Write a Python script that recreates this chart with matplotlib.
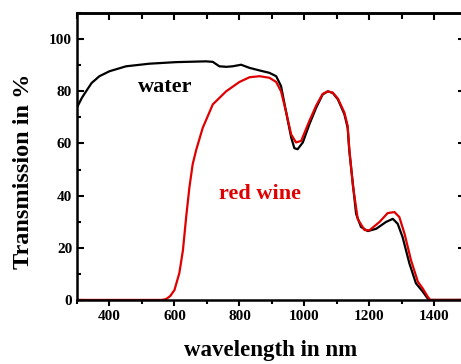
import numpy as np
import matplotlib
matplotlib.use("Agg")
from matplotlib import pyplot as plt
from matplotlib.ticker import MultipleLocator

# water (black)
water_nm = [302, 315, 328, 345, 369, 400, 451, 523, 605, 697, 718, 738, 760, 779,
            805, 831, 862, 892, 913, 928, 943, 959, 969, 979, 995, 1015, 1036,
            1056, 1072, 1087, 1103, 1123, 1133, 1138, 1149, 1159, 1174, 1195,
            1221, 1251, 1272, 1287, 1302, 1323, 1343, 1364, 1379, 1385, 1400, 1494]
water_T = [74.3, 77.5, 80.0, 83.2, 85.8, 87.7, 89.6, 90.6, 91.2, 91.5, 91.3, 89.6,
           89.4, 89.6, 90.2, 89.0, 88.0, 87.1, 85.8, 82.0, 72.4, 62.4, 58.2, 57.8,
           60.4, 67.3, 73.7, 78.8, 80.0, 79.4, 76.9, 71.2, 66.0, 57.2, 44.5, 33.0,
           28.0, 26.4, 27.3, 29.9, 31.1, 29.2, 24.1, 14.0, 6.4, 3.2, 0.6, 0.0,
           0.0, 0.0]

# red wine (red)
wine_nm = [302, 560, 574, 587, 600, 615, 626, 636, 646, 656, 667, 687, 718, 759,
           800, 831, 862, 892, 913, 928, 943, 959, 974, 990, 1015, 1036, 1056,
           1072, 1087, 1103, 1123, 1133, 1138, 1149, 1164, 1185, 1200, 1231,
           1256, 1277, 1292, 1308, 1328, 1349, 1364, 1379, 1387, 1400, 1494]
wine_T = [0.0, 0.0, 0.3, 1.5, 3.8, 10.3, 19.0, 31.8, 43.2, 52.0, 57.6, 66.0, 75.0,
          80.0, 83.6, 85.4, 85.8, 85.2, 83.6, 80.0, 72.4, 63.5, 60.4, 61.0, 68.6,
          74.5, 79.0, 80.0, 79.5, 77.2, 71.8, 66.8, 58.0, 44.0, 31.0, 26.8, 26.7,
          29.9, 33.3, 33.7, 31.8, 25.4, 15.2, 7.0, 4.4, 1.3, 0.0, 0.0, 0.0]

plt.rcParams['font.family'] = ['Liberation Serif', 'DejaVu Serif']
plt.rcParams['font.weight'] = 'bold'

fig = plt.figure(figsize=(4.61, 3.64), dpi=100)
ax = fig.add_axes([0.167, 0.176, 0.8416, 0.788])

ax.plot(water_nm, water_T, color='black', lw=1.6)
ax.plot(wine_nm, wine_T, color='#e00000', lw=1.6)

ax.set_xlim(300, 1494)
ax.set_ylim(0, 110)
ax.xaxis.set_major_locator(MultipleLocator(200))
ax.xaxis.set_minor_locator(MultipleLocator(100))
ax.set_yticks([0, 20, 40, 60, 80, 100])
ax.yaxis.set_minor_locator(MultipleLocator(10))

ax.tick_params(axis='x', which='both', direction='out', labelsize=11, width=1.5)
ax.tick_params(axis='y', which='both', direction='in', right=True, labelsize=11, width=1.5)
ax.tick_params(axis='y', which='minor', right=False)
ax.tick_params(which='major', length=4)
ax.tick_params(which='minor', length=3)
ax.tick_params(axis='y', which='major', length=5)
for lbl in ax.get_xticklabels() + ax.get_yticklabels():
    lbl.set_fontweight('bold')
for s in ax.spines.values():
    s.set_linewidth(1.8)

# top ticks point inward
top = ax.secondary_xaxis('top')
top.xaxis.set_major_locator(MultipleLocator(200))
top.xaxis.set_minor_locator(MultipleLocator(100))
top.tick_params(which='both', direction='in', labeltop=False, width=1.5)
top.tick_params(which='major', length=5)
top.tick_params(which='minor', length=4)
top.spines['top'].set_linewidth(1.8)

ax.text(572, 81.6, 'water', fontsize=16, fontweight='bold', ha='center', va='center')
ax.text(862, 40.8, 'red wine', fontsize=16, fontweight='bold', color='#e00000',
        ha='center', va='center')

ax.set_xlabel('wavelength in nm', fontsize=16.5, fontweight='bold', labelpad=12)
ax.set_ylabel('Transmission in %', fontsize=17.5, fontweight='bold')
ax.yaxis.set_label_coords(-0.112, 0.45)

fig.savefig('out.png', dpi=100)
